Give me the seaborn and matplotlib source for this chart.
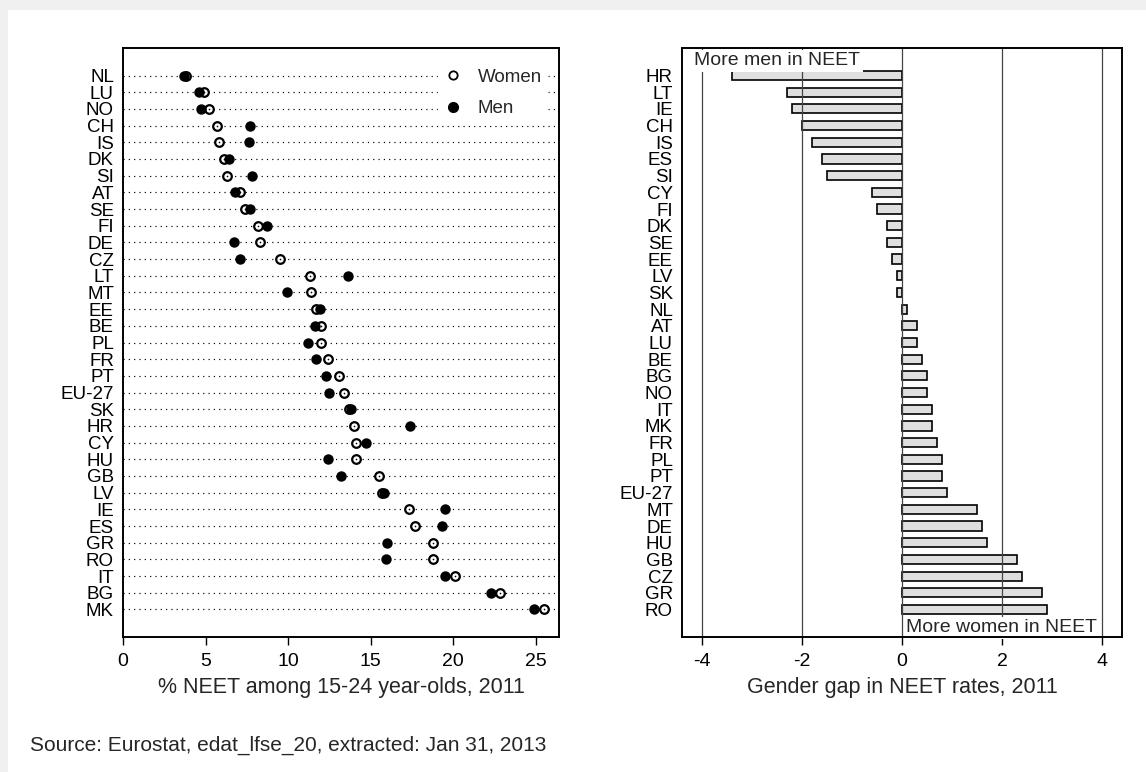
import pandas as pd
import matplotlib
matplotlib.use("Agg")
import matplotlib.pyplot as plt
from matplotlib.lines import Line2D
from matplotlib.patches import Rectangle
import seaborn as sns

# left panel: NEET rates by sex, sorted by women's rate
countries = ["NL", "LU", "NO", "CH", "IS", "DK", "SI", "AT", "SE", "FI", "DE", "CZ",
             "LT", "MT", "EE", "BE", "PL", "FR", "PT", "EU-27", "SK", "HR", "CY", "HU",
             "GB", "LV", "IE", "ES", "GR", "RO", "IT", "BG", "MK"]
women = [3.8, 4.9, 5.2, 5.7, 5.8, 6.1, 6.3, 7.1, 7.4, 8.2, 8.3, 9.5,
         11.3, 11.4, 11.7, 12.0, 12.0, 12.4, 13.1, 13.4, 13.7, 14.0, 14.1, 14.1,
         15.5, 15.7, 17.3, 17.7, 18.8, 18.8, 20.1, 22.8, 25.5]
men = [3.7, 4.6, 4.7, 7.7, 7.6, 6.4, 7.8, 6.8, 7.7, 8.7, 6.7, 7.1,
       13.6, 9.9, 11.9, 11.6, 11.2, 11.7, 12.3, 12.5, 13.8, 17.4, 14.7, 12.4,
       13.2, 15.8, 19.5, 19.3, 16.0, 15.9, 19.5, 22.3, 24.9]

# right panel: gender gap (women - men), sorted
gap_countries = ["HR", "LT", "IE", "CH", "IS", "ES", "SI", "CY", "FI", "DK", "SE", "EE",
                 "LV", "SK", "NL", "AT", "LU", "BE", "BG", "NO", "IT", "MK", "FR", "PL",
                 "PT", "EU-27", "MT", "DE", "HU", "GB", "CZ", "GR", "RO"]
gap = [-3.4, -2.3, -2.2, -2.0, -1.8, -1.6, -1.5, -0.6, -0.5, -0.3, -0.3, -0.2,
       -0.1, -0.1, 0.1, 0.3, 0.3, 0.4, 0.5, 0.5, 0.6, 0.6, 0.7, 0.8,
       0.8, 0.9, 1.5, 1.6, 1.7, 2.3, 2.4, 2.8, 2.9]

left_ticks = [0, 5, 10, 15, 20, 25]
right_ticks = [-4, -2, 0, 2, 4]

sns.set_theme(style="ticks")
plt.rcParams["font.family"] = ["Liberation Sans", "DejaVu Sans"]
plt.rcParams["axes.unicode_minus"] = False

W, H = 1146, 772
fig = plt.figure(figsize=(W / 100, H / 100), dpi=100)
fig.patch.set_facecolor("#f0f0f0")
fig.patches.append(Rectangle((8 / W, 0), 1, 1 - 10 / H, transform=fig.transFigure,
                             facecolor="white", edgecolor="none", zorder=-10))

ax1 = fig.add_axes([123 / W, 1 - 637 / H, 436 / W, 589 / H])
ax2 = fig.add_axes([682 / W, 1 - 637 / H, 440 / W, 589 / H])

df = pd.DataFrame({"country": countries, "women": women, "men": men})
n = len(countries)

# ---- left: dot plot
sns.stripplot(data=df, x="women", y="country", order=countries, orient="h", jitter=False,
              color="white", edgecolor="black", linewidth=1.6, size=6.2, ax=ax1, zorder=3)
sns.stripplot(data=df, x="women", y="country", order=countries, orient="h", jitter=False,
              color="black", size=1.2, ax=ax1, zorder=3)
sns.stripplot(data=df, x="men", y="country", order=countries, orient="h", jitter=False,
              color="black", size=7.5, linewidth=0, ax=ax1, zorder=4)

ax1.set_xlim(0, 26.4)
ax1.set_ylim(n - 1 + 1.65, -1.65)
ax1.set_xticks(left_ticks)
ax1.set_axisbelow(True)
ax1.yaxis.grid(True, color="black", linestyle=(0, (1, 3.5)), linewidth=0.85)
ax1.xaxis.grid(False)
ax1.set_ylabel("")
ax1.set_xlabel("% NEET among 15-24 year-olds, 2011", fontsize=15.5)
ax1.xaxis.set_label_coords(0.5, -0.068)

handles = [
    Line2D([], [], marker="o", ls="", mfc="white", mec="black", ms=6, mew=1.3, label="Women"),
    Line2D([], [], marker="o", ls="", mfc="black", mec="black", ms=7, label="Men"),
]
leg = ax1.legend(handles=handles, loc="upper right", bbox_to_anchor=(0.995, 0.99),
                 fontsize=13.5, frameon=True, fancybox=False, framealpha=1,
                 facecolor="white", edgecolor="white", labelspacing=0.75,
                 handlelength=1.0, handletextpad=0.8, borderpad=0.3)
leg.set_zorder(10)

# ---- right: gender gap bars
sns.barplot(x=gap, y=gap_countries, orient="h", color="#dfdfdf", saturation=1,
            edgecolor="black", linewidth=1.2, width=0.55, ax=ax2)
ax2.set_xlim(-4.4, 4.4)
ax2.set_ylim(n - 1 + 1.65, -1.65)
ax2.set_xticks(right_ticks)
ax2.set_axisbelow(False)
ax2.xaxis.grid(True, color="#444444", linestyle="-", linewidth=0.9)
ax2.yaxis.grid(False)
ax2.set_ylabel("")
ax2.set_xlabel("Gender gap in NEET rates, 2011", fontsize=15.5)
ax2.xaxis.set_label_coords(0.5, -0.068)

ax2.text(-4.15, -0.88, "More men in NEET", fontsize=14, ha="left", va="center", zorder=5,
         bbox=dict(boxstyle="square,pad=0.12", facecolor="white", edgecolor="none"))
ax2.text(3.9, 33.1, "More women in NEET", fontsize=14, ha="right", va="center", zorder=5,
         bbox=dict(boxstyle="square,pad=0.12", facecolor="white", edgecolor="none"))

for ax in (ax1, ax2):
    for sp in ax.spines.values():
        sp.set_visible(True)
        sp.set_color("black")
        sp.set_linewidth(1.4)
        sp.set_zorder(8)
    ax.set_facecolor("white")
    ax.tick_params(axis="y", length=0, pad=6.5, labelsize=13.5, colors="black")
    ax.tick_params(axis="x", length=5.5, width=1, pad=6, labelsize=14, colors="black")

fig.text(30 / W, 1 - 745 / H, "Source: Eurostat, edat_lfse_20, extracted: Jan 31, 2013",
         fontsize=15, ha="left", va="center")

fig.savefig("out.png", dpi=100)
